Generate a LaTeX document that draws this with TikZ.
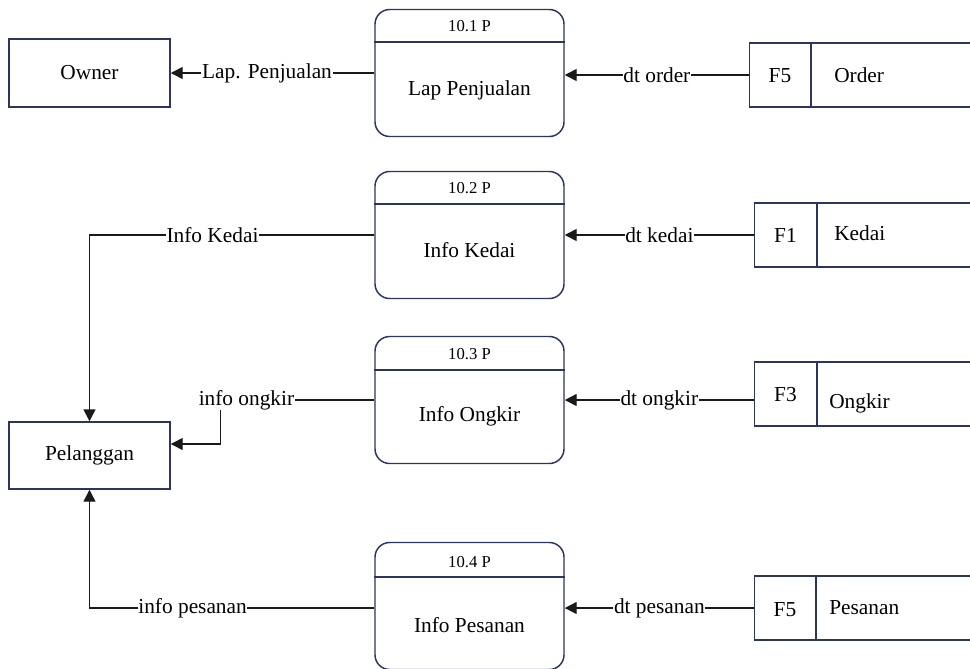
\documentclass[tikz,border=0pt]{standalone}
\usepackage{fontspec}
\setmainfont{Liberation Serif}
\usetikzlibrary{arrows.meta}
\definecolor{bordc}{HTML}{2B3560}
\definecolor{linec}{HTML}{1A1A1A}
\begin{document}
\begin{tikzpicture}[x=0.75pt,y=-0.75pt,
  ent/.style={draw=bordc, line width=1.1pt, minimum width=161*0.75pt, minimum height=68*0.75pt, font=\fontsize{16}{19}\selectfont, inner sep=0pt},
  proc/.style={draw=bordc, line width=1.1pt, rounded corners=11pt, minimum width=189*0.75pt, minimum height=127*0.75pt, inner sep=0pt},
  store/.style={draw=bordc, line width=1.1pt, minimum width=240*0.75pt, minimum height=64*0.75pt, anchor=west, inner sep=0pt},
  divline/.style={draw=bordc, line width=1.1pt},
  txt/.style={font=\fontsize{16}{19}\selectfont, inner sep=0pt},
  idtxt/.style={font=\fontsize{12.5}{15}\selectfont, inner sep=0pt},
  flow/.style={draw=linec, line width=1.1pt, -{Triangle[length=9pt,width=9pt]}},
  lbl/.style={fill=white, font=\fontsize{16}{19}\selectfont, inner sep=0.5pt},
]
\useasboundingbox (0,0) rectangle (970,668);
\clip (0,0) rectangle (970,668);

% external entities
\node[ent] (owner) at (89.5,73) {Owner};
\node[ent, minimum height=67*0.75pt] (pel) at (89.5,455.5) {Pelanggan};

% processes
\node[proc] (p1) at (469.5,73) {};
\node[proc] (p2) at (469.5,235) {};
\node[proc] (p3) at (469.5,400) {};
\node[proc] (p4) at (469.5,606) {};
\draw[divline] (p1.west |- 0,42) -- (p1.east |- 0,42);
\draw[divline] (p2.west |- 0,204) -- (p2.east |- 0,204);
\draw[divline] (p3.west |- 0,370) -- (p3.east |- 0,370);
\draw[divline] (p4.west |- 0,577) -- (p4.east |- 0,577);
\node[idtxt] (p1id) at (469.5,26) {10.1 P};
\node[idtxt] (p2id) at (469.5,188) {10.2 P};
\node[idtxt] (p3id) at (469.5,354) {10.3 P};
\node[idtxt] (p4id) at (469.5,562) {10.4 P};
\node[txt] (p1n) at (469.5,90) {Lap Penjualan};
\node[txt] (p2n) at (469.5,250) {Info Kedai};
\node[txt] (p3n) at (469.5,416) {Info Ongkir};
\node[txt] (p4n) at (469.5,625) {Info Pesanan};

% data stores
\node[store] (s1) at (749,75) {};
\node[store] (s2) at (754,235) {};
\node[store] (s3) at (754,394) {};
\node[store] (s4) at (754,608) {};
\draw[divline] (811,0 |- s1.north) -- (811,0 |- s1.south);
\draw[divline] (817,0 |- s2.north) -- (817,0 |- s2.south);
\draw[divline] (817,0 |- s3.north) -- (817,0 |- s3.south);
\draw[divline] (816,0 |- s4.north) -- (816,0 |- s4.south);
\node[txt] (s1id) at (780,76) {F5};
\node[txt] (s2id) at (785.5,235) {F1};
\node[txt] (s3id) at (785.5,395) {F3};
\node[txt] (s4id) at (785,610) {F5};
\node[txt, anchor=west] (s1n) at (834,75) {Order};
\node[txt, anchor=west] (s2n) at (834,233) {Kedai};
\node[txt, anchor=west] (s3n) at (829,403) {Ongkir};
\node[txt, anchor=west] (s4n) at (829,608) {Pesanan};

% flows
\draw[flow] (p1.west) -- (owner.east) node[lbl,pos=0.527] {Lap. Penjualan};
\draw[flow] (s1.west) -- (p1.east |- s1.west) node[lbl,midway] {dt order};
\draw[flow] (p2.west) -| (pel.north) node[lbl,pos=0.284] {Info Kedai};
\draw[flow] (s2.west) -- (p2.east) node[lbl,midway] {dt kedai};
\draw[flow] (p3.west) -- ++(-154,0) node[lbl,pos=0.83] {info ongkir} |- (pel.east |- 0,444);
\draw[flow] (s3.west |- p3.east) -- (p3.east) node[lbl,midway] {dt ongkir};
\draw[flow] (p4.west |- s4.west) -| (pel.south) node[lbl,pos=0.319] {info pesanan};
\draw[flow] (s4.west) -- (p4.east |- s4.west) node[lbl,midway] {dt pesanan};
\end{tikzpicture}
\end{document}
